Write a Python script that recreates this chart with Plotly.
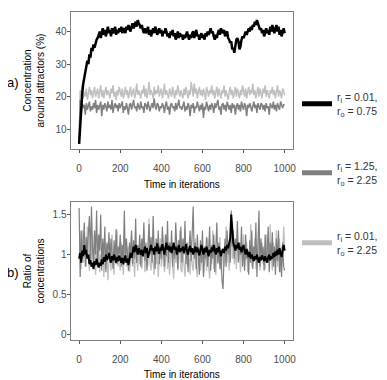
import plotly.graph_objects as go

iterations = list(range(0, 1001, 5))

conc_black = [
    5.5, 12, 16, 21, 24, 26, 28, 29.5, 31, 30,
    33, 32, 35, 34, 36, 35, 36.5, 37.5, 38, 39.5,
    40, 38, 39.5, 41, 39, 40.5, 38.5, 40, 41.5, 39.5,
    40.5, 38.5, 41, 39.5, 40, 41.5, 39, 40.5, 39.5, 41,
    40, 41.5, 39.5, 40.5, 41, 39.5, 41.5, 40.5, 42, 41,
    40, 41.5, 42.5, 41, 42, 43, 41.5, 43.5, 42.5, 42,
    41, 42, 40.5, 39.5, 41, 39.5, 40, 41.5, 39, 40.5,
    38.5, 40, 41, 39.5, 41.5, 40.5, 39, 40, 41, 39.5,
    40.5, 38.5, 40, 39.5, 41, 40, 38.5, 39.5, 38, 40,
    39, 40.5, 38.5, 39.5, 37.5, 38.5, 40, 38, 39.5, 38.5,
    39, 37.5, 39, 38, 39.5, 40, 38.5, 37.5, 39, 38,
    39.5, 40, 38, 39.5, 40.5, 38.5, 39, 37.5, 38.5, 39.5,
    38, 39, 37.5, 39.5, 38.5, 40, 39, 40.5, 41, 39.5,
    40, 38.5, 37.5, 39, 38, 39.5, 40.5, 39, 41, 40,
    39.5, 40.5, 38.5, 39.5, 40, 38, 37.5, 36.5, 37, 34.5,
    35, 33.5, 36, 37.5, 38, 37, 34.5, 35.5, 37.5, 38.5,
    38, 39.5, 40, 39, 40.5, 41, 40, 41.5, 40.5, 42,
    41.5, 43, 42, 43.5, 42.5, 41.5, 40.5, 41, 39.5, 40.5,
    38.5, 39.5, 41, 39.5, 40.5, 39, 41.5, 40, 42, 40.5,
    39.5, 41, 42, 40, 41.5, 39, 40.5, 38.5, 40, 41,
    39.5,
]

conc_dark = [
    5.5, 19, 15, 18, 16.5, 17.5, 14.5, 18, 16, 17,
    18.5, 15.5, 17, 16, 18, 16.5, 19, 15, 17.5, 16,
    17, 18.5, 14, 17.5, 16, 18, 17, 15.5, 18.5, 16.5,
    17.5, 16, 19, 15, 17, 18, 16.5, 17.5, 15.5, 18,
    16.5, 17.5, 18.5, 15, 17, 16, 18, 16.5, 14.5, 17.5,
    18, 16, 17.5, 19, 16.5, 17, 15.5, 18, 17, 16,
    18.5, 16.5, 17, 15, 18, 17.5, 16, 18.5, 17, 15.5,
    17, 18, 16.5, 19.5, 17, 16, 18, 17.5, 15.5, 17,
    16.5, 18, 17, 15, 17.5, 18.5, 16, 17, 14.5, 17.5,
    18, 16.5, 17, 15.5, 18, 16, 17.5, 19, 16.5, 17,
    16, 17.5, 18.5, 15.5, 17, 16, 18, 17, 14, 17.5,
    16.5, 18, 15, 17, 16.5, 18.5, 17, 15.5, 17.5, 16,
    18, 13.5, 17, 16, 18.5, 17, 15.5, 17.5, 16, 18,
    17, 15, 18, 16.5, 17.5, 19, 16, 17, 14.5, 17.5,
    18, 16, 17.5, 15.5, 18.5, 17, 16, 17.5, 15, 18,
    16.5, 17.5, 14.5, 17, 18, 16, 17.5, 15.5, 18.5, 17,
    16, 18, 17, 14, 17.5, 16.5, 18, 17, 15.5, 17,
    18.5, 16.5, 17.5, 15, 18, 17, 16, 18, 17.5, 16,
    17.5, 15.5, 18, 16.5, 17, 14.5, 18, 17, 16.5, 18.5,
    16, 17.5, 15.5, 18, 17, 16, 18.5, 17, 16.5, 17.5,
    17.5,
]

conc_light = [
    5.5, 22, 20, 23.5, 19.5, 21.5, 20, 22.5, 19, 21,
    23, 20.5, 22, 19.5, 21.5, 23, 20, 21.5, 22.5, 19.5,
    21, 23.5, 20, 22, 19.5, 21.5, 23, 20.5, 22, 21,
    19.5, 22.5, 21, 23.5, 20, 21.5, 19, 22, 20.5, 23,
    21, 20, 22.5, 19.5, 21, 23, 20.5, 22, 19.5, 21.5,
    23, 20, 21.5, 22.5, 19.5, 21, 24, 20.5, 22, 21,
    19.5, 22, 21, 23.5, 20, 22.5, 19.5, 21.5, 24.5, 20.5,
    22, 21, 19.5, 23, 20.5, 22, 21, 23.5, 20, 21.5,
    22.5, 19.5, 21, 24, 20.5, 22, 21, 19.5, 22.5, 21,
    20, 23, 21.5, 19.5, 22, 20.5, 23.5, 21, 20, 22,
    21, 19.5, 22.5, 20.5, 23, 21, 19.5, 22, 20.5, 24.5,
    21.5, 20, 24, 21, 22.5, 19.5, 21.5, 23, 20.5, 22,
    20, 22.5, 21, 19, 23, 21.5, 20, 22, 21, 23.5,
    20.5, 22, 19.5, 21.5, 23, 20, 22.5, 21, 19.5, 22,
    21, 23.5, 20, 22, 20.5, 19, 21.5, 23, 20.5, 22,
    19.5, 21.5, 23, 20, 22.5, 21, 19.5, 22, 20.5, 23.5,
    21, 20, 22.5, 19.5, 21.5, 23, 20.5, 22, 21, 24,
    20.5, 22, 19.5, 21.5, 23, 20, 22.5, 21, 19.5, 22.5,
    21, 23.5, 20, 22, 20.5, 19.5, 22, 21, 23, 20.5,
    22, 19.5, 21.5, 23.5, 20, 22, 21, 19.5, 22.5, 21,
    20.5,
]

ratio_black = [
    0.95, 1.02, 0.9, 1.05, 0.98, 1.12, 1.0, 1.06, 0.95, 1.0,
    0.88, 0.93, 0.85, 0.9, 0.82, 0.92, 0.87, 0.95, 0.89, 0.84,
    0.9, 0.86, 0.94, 0.88, 0.97, 0.91, 1.0, 0.93, 0.96, 1.02,
    0.95, 0.9, 0.98, 0.93, 1.0, 0.95, 0.9, 0.97, 0.92, 0.99,
    0.94, 0.9, 0.96, 0.88, 0.94, 0.99, 0.9, 0.95, 0.87, 0.97,
    1.02, 0.96, 1.05, 1.1, 1.03, 1.12, 1.06, 1.0, 1.08, 1.04,
    1.0, 1.06, 0.98, 1.04, 1.1, 1.02, 1.08, 0.96, 1.03, 1.07,
    1.12, 1.05, 1.08, 1.0, 1.1, 1.04, 1.14, 1.06, 1.01, 1.09,
    1.05, 1.13, 1.07, 1.0, 1.09, 1.15, 1.06, 1.11, 1.04, 1.1,
    1.02, 1.08, 1.15, 1.06, 1.1, 1.0, 1.07, 1.12, 1.03, 1.08,
    1.05, 1.1, 1.02, 1.08, 1.13, 1.04, 1.0, 1.07, 1.11, 1.03,
    1.08, 1.0, 1.06, 1.1, 1.03, 1.09, 1.04, 0.99, 1.06, 1.12,
    1.05, 1.0, 1.08, 1.03, 1.1, 1.05, 0.98, 1.06, 1.02, 1.09,
    1.04, 1.12, 1.06, 1.0, 1.08, 1.03, 1.1, 1.05, 0.98, 1.04,
    1.07, 1.02, 1.1, 1.05, 1.12, 1.08, 1.15, 1.2, 1.5, 1.25,
    1.15, 1.1, 1.05, 1.12, 1.08, 1.15, 1.06, 1.1, 1.03, 1.08,
    1.12, 1.05, 1.0, 1.07, 1.02, 0.97, 1.03, 0.95, 1.0, 0.96,
    0.92, 0.98, 0.94, 1.0, 0.95, 0.9, 0.97, 0.93, 0.99, 0.95,
    0.92, 0.98, 0.94, 0.9, 0.97, 1.0, 0.93, 0.98, 0.95, 1.02,
    0.97, 1.04, 0.99, 1.06, 1.0, 1.08, 1.02, 0.97, 1.05, 1.12,
    1.05,
]

ratio_dark = [
    1.58, 0.72, 1.3, 0.95, 1.15, 1.4, 0.85, 1.22, 1.05, 1.35,
    1.48, 0.9, 1.6, 1.1, 0.88, 1.3, 1.0, 1.55, 0.85, 1.25,
    1.05, 1.5, 0.8, 1.2, 0.95, 1.35, 0.78, 1.15, 1.0, 1.28,
    0.9, 1.2, 1.05, 0.82, 1.18, 0.95, 1.32, 0.88, 1.1, 1.0,
    1.25, 0.85, 1.12, 0.95, 1.55, 0.9, 1.2, 1.05, 0.8, 1.15,
    1.0, 1.3, 0.88, 1.18, 0.95, 1.45, 0.9, 1.12, 1.0, 1.25,
    0.85, 1.2, 1.05, 1.4, 0.92, 1.15, 0.8, 1.1, 1.38, 1.0,
    1.22, 0.9, 1.48, 1.05, 0.82, 1.2, 1.0, 1.3, 0.88, 1.12,
    0.95, 1.35, 1.05, 0.85, 1.25, 0.98, 1.42, 0.9, 1.15, 1.02,
    1.3, 0.85, 1.12, 0.95, 1.4, 1.0, 0.82, 1.18, 1.05, 1.35,
    0.9, 1.2, 1.0, 1.42, 0.88, 1.15, 0.78, 1.1, 1.3, 0.92,
    1.2, 1.6, 0.95, 1.15, 0.82, 1.25, 1.0, 0.75, 1.18, 0.9,
    1.3, 0.72, 1.1, 0.95, 1.22, 0.85, 1.05, 1.35, 0.8, 1.12,
    0.95, 1.25, 0.78, 1.1, 1.4, 0.9, 1.15, 0.82, 1.05, 0.68,
    0.57, 0.95, 1.2, 0.85, 1.3, 1.0, 1.15, 0.9, 1.55, 1.1,
    1.3, 0.95, 1.2, 1.05, 1.42, 0.9, 1.15, 1.0, 1.35, 0.85,
    1.1, 0.8, 1.25, 0.95, 1.05, 0.75, 1.18, 0.9, 1.3, 0.82,
    1.1, 0.95, 1.4, 0.72, 1.15, 1.55, 0.85, 1.2, 0.95, 1.1,
    0.8, 1.25, 0.9, 1.05, 1.35, 0.78, 1.15, 0.95, 1.28, 0.85,
    1.1, 0.75, 1.2, 0.92, 1.3, 0.78, 1.05, 0.72, 1.15, 0.85,
    0.8,
]

ratio_light = [
    0.95, 1.1, 0.82, 1.3, 0.9, 1.2, 1.05, 0.85, 1.35, 1.0,
    0.8, 1.15, 0.92, 1.25, 0.85, 1.1, 0.75, 1.05, 0.9, 1.2,
    0.78, 1.0, 0.88, 1.15, 0.72, 0.95, 0.82, 1.1, 0.68, 0.9,
    1.05, 0.8, 1.25, 0.92, 0.75, 1.1, 0.88, 1.3, 0.85, 0.98,
    0.8, 1.15, 0.9, 0.75, 1.05, 1.2, 0.85, 0.95, 1.1, 0.78,
    0.92, 1.25, 0.85, 1.0, 0.72, 1.12, 0.9, 0.8, 1.05, 0.88,
    1.15, 0.82, 0.98, 1.3, 0.78, 0.95, 1.1, 0.85, 1.45, 0.9,
    0.8, 1.05, 0.92, 0.75, 1.15, 0.88, 1.0, 0.72, 0.95, 1.2,
    0.85, 0.98, 1.1, 0.78, 0.92, 1.25, 0.82, 1.0, 0.75, 0.95,
    1.12, 0.85, 0.7, 1.0, 0.9, 1.18, 0.8, 0.95, 1.3, 0.82,
    0.78, 1.05, 0.9, 0.72, 0.98, 1.15, 0.85, 0.95, 0.75, 1.1,
    0.88, 0.8, 1.0, 1.2, 0.82, 0.72, 0.95, 1.08, 0.8, 0.92,
    1.15, 0.75, 0.9, 1.02, 0.8, 1.2, 0.85, 0.7, 0.98, 0.88,
    1.3, 0.82, 0.95, 0.75, 1.1, 0.88, 1.0, 1.22, 0.8, 0.92,
    1.05, 0.85, 0.95, 1.35, 0.9, 1.1, 0.8, 1.0, 1.4, 0.95,
    1.2, 0.88, 1.05, 0.82, 1.3, 0.92, 1.1, 0.78, 1.15, 0.95,
    1.25, 0.85, 1.0, 1.15, 0.78, 1.05, 0.9, 1.38, 0.85, 1.1,
    0.95, 1.2, 0.82, 1.05, 0.9, 1.3, 0.8, 1.0, 1.15, 0.88,
    1.05, 0.82, 1.25, 0.9, 1.1, 0.85, 1.38, 0.95, 0.8, 1.15,
    0.9, 1.05, 1.3, 0.85, 1.0, 1.2, 0.78, 1.1, 0.92, 1.35,
    1.1,
]

series_labels = [
    "r<sub>i</sub> = 0.01,<br>r<sub>o</sub> = 0.75",
    "r<sub>i</sub> = 1.25,<br>r<sub>o</sub> = 2.25",
    "r<sub>i</sub> = 0.01,<br>r<sub>o</sub> = 2.25",
]
series_colors = ["#000000", "#7f7f7f", "#bfbfbf"]

x_ticks = [0, 200, 400, 600, 800, 1000]
top_ticks = [10, 20, 30, 40]
bottom_ticks = [0, 0.5, 1, 1.5]
bottom_ticktext = ["0", "0.5", "1", "1.5"]

# page body has an 8px default margin, so the figure is offset by it
OFF = 8
W, H = 387 - OFF, 380 - OFF
font_family = "Liberation Sans, Arial, sans-serif"

fig = go.Figure()

# top panel: light, dark, black
fig.add_trace(go.Scatter(x=iterations, y=conc_light, mode="lines",
                         line=dict(color=series_colors[2], width=1.5),
                         xaxis="x", yaxis="y", showlegend=False))
fig.add_trace(go.Scatter(x=iterations, y=conc_dark, mode="lines",
                         line=dict(color=series_colors[1], width=1.5),
                         xaxis="x", yaxis="y", showlegend=False))
fig.add_trace(go.Scatter(x=iterations, y=conc_black, mode="lines",
                         line=dict(color=series_colors[0], width=2.5),
                         xaxis="x", yaxis="y", showlegend=False))

# bottom panel
fig.add_trace(go.Scatter(x=iterations, y=ratio_light, mode="lines",
                         line=dict(color=series_colors[2], width=1.3),
                         xaxis="x2", yaxis="y2", showlegend=False))
fig.add_trace(go.Scatter(x=iterations, y=ratio_dark, mode="lines",
                         line=dict(color=series_colors[1], width=1.2),
                         xaxis="x2", yaxis="y2", showlegend=False))
fig.add_trace(go.Scatter(x=iterations, y=ratio_black, mode="lines",
                         line=dict(color=series_colors[0], width=2),
                         xaxis="x2", yaxis="y2", showlegend=False))

# legend keys
legend_names = ["legend", "legend2", "legend3"]
for lab, col, lg in zip(series_labels, series_colors, legend_names):
    fig.add_trace(go.Scatter(x=[None], y=[None], mode="lines", name=lab,
                             line=dict(color=col, width=5),
                             xaxis="x", yaxis="y", showlegend=True, legend=lg))

def px_x(p):
    return (p - OFF) / W

def px_y(p):
    return 1 - (p - OFF) / H

axis_common = dict(
    showline=True, mirror=True, linecolor="#7f7f7f", linewidth=1,
    ticks="outside", ticklen=3, tickcolor="#555555", tickwidth=1,
    showgrid=False, zeroline=False, automargin=False,
    tickfont=dict(size=10, color="#4d4d4d", family=font_family),
)

legend_common = dict(
    font=dict(size=10.5, color="#333333", family=font_family),
    bgcolor="rgba(0,0,0,0)", borderwidth=0,
    xanchor="left", yanchor="middle", itemwidth=30,
)

fig.update_layout(
    width=W, height=H,
    margin=dict(l=0, r=0, t=0, b=0),
    paper_bgcolor="white", plot_bgcolor="white",
    font=dict(family=font_family, color="#000000"),
    xaxis=dict(domain=[px_x(70.5), px_x(293.3)], range=[-42, 1042],
               tickvals=x_ticks, anchor="y", ticklabelstandoff=7, **axis_common),
    yaxis=dict(domain=[px_y(149.3), px_y(12.3)], range=[3.85, 45.9],
               tickvals=top_ticks, anchor="x", ticklabelstandoff=-2, **axis_common),
    xaxis2=dict(domain=[px_x(70.5), px_x(293.3)], range=[-42, 1042],
                tickvals=x_ticks, anchor="y2", ticklabelstandoff=7, **axis_common),
    yaxis2=dict(domain=[px_y(340), px_y(201.7)], range=[-0.065, 1.66],
                tickvals=bottom_ticks, ticktext=bottom_ticktext, anchor="x2",
                ticklabelstandoff=-2, **axis_common),
    legend=dict(x=px_x(297), y=px_y(104), **legend_common),
    legend2=dict(x=px_x(297), y=px_y(173), **legend_common),
    legend3=dict(x=px_x(297), y=px_y(243), **legend_common),
    showlegend=True,
)

ann_font = dict(size=10, color="#000000", family=font_family)

def ann(text, x, y, font, angle=0):
    return dict(text=text, x=px_x(x), y=px_y(y), xref="paper", yref="paper",
                xanchor="center", yanchor="middle", showarrow=False,
                textangle=angle, font=font)

big_font = dict(size=13, color="#000000", family=font_family)
annotations = [
    ann("a)", 13, 82, big_font),
    ann("b)", 13, 272, big_font),
    ann("Concentration<br>around attractors (%)", 33.5, 81, ann_font, -90),
    ann("Ratio of<br>concentrations", 33.5, 271, ann_font, -90),
    ann("Time in iterations", 182, 184, ann_font),
    ann("Time in iterations", 182, 374, ann_font),
]
fig.update_layout(annotations=annotations)

fig.write_html("out.html")
